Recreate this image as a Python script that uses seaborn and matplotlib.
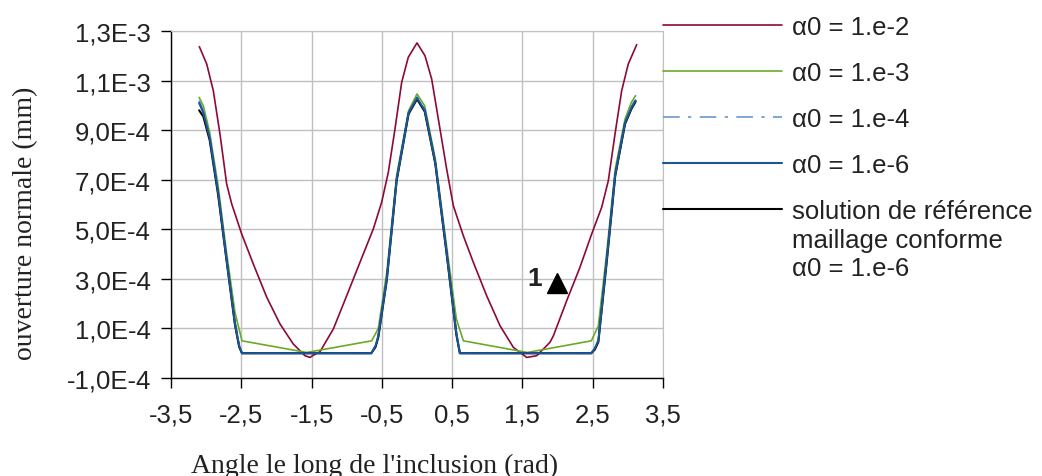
import pandas as pd
import matplotlib
matplotlib.use("Agg")
import matplotlib.pyplot as plt
import seaborn as sns
from matplotlib.ticker import FuncFormatter

# alpha0 = 1e-2
X_A2 = [-3.097, -2.992, -2.898, -2.803, -2.708, -2.636, -2.494, -2.329, -2.138, -1.949,
        -1.760, -1.594, -1.522, -1.475, -1.380, -1.190, -1.000, -0.811, -0.622, -0.503,
        -0.408, -0.313, -0.218, -0.124, 0.0, 0.114, 0.209, 0.327, 0.422, 0.517, 0.659,
        0.801, 0.991, 1.181, 1.370, 1.561, 1.703, 1.892, 1.940, 2.130, 2.319, 2.485,
        2.628, 2.722, 2.817, 2.912, 3.006, 3.126]
Y_A2 = [1.237e-3, 1.167e-3, 1.059e-3, 0.884e-3, 0.683e-3, 0.602e-3, 0.481e-3, 0.360e-3,
        0.226e-3, 0.118e-3, 0.037e-3, -0.010e-3, -0.017e-3, -0.008e-3, 0.006e-3,
        0.098e-3, 0.232e-3, 0.367e-3, 0.501e-3, 0.609e-3, 0.730e-3, 0.905e-3, 1.093e-3,
        1.194e-3, 1.252e-3, 1.200e-3, 1.106e-3, 0.905e-3, 0.743e-3, 0.595e-3, 0.474e-3,
        0.367e-3, 0.232e-3, 0.111e-3, 0.024e-3, -0.017e-3, -0.010e-3, 0.044e-3,
        0.070e-3, 0.212e-3, 0.347e-3, 0.481e-3, 0.589e-3, 0.696e-3, 0.884e-3, 1.059e-3,
        1.167e-3, 1.245e-3]

# alpha0 = 1e-3
X_A3 = [-3.10, -3.04, -2.95, -2.83, -2.71, -2.59, -2.49, -1.57, -0.645, -0.55, -0.43,
        -0.29, -0.12, 0.0, 0.11, 0.26, 0.42, 0.56, 0.66, 1.57, 2.48, 2.58, 2.70, 2.82,
        2.96, 3.05, 3.11]
Y_A3 = [1.032e-3, 0.998e-3, 0.891e-3, 0.676e-3, 0.407e-3, 0.165e-3, 0.050e-3, 0.003e-3,
        0.050e-3, 0.100e-3, 0.326e-3, 0.716e-3, 0.978e-3, 1.046e-3, 0.998e-3, 0.784e-3,
        0.434e-3, 0.138e-3, 0.050e-3, 0.003e-3, 0.050e-3, 0.110e-3, 0.407e-3, 0.743e-3,
        0.945e-3, 1.012e-3, 1.039e-3]

# alpha0 = 1e-4, 1e-6 and reference (conforming mesh)
X_FINE = [-3.10, -3.04, -2.95, -2.83, -2.71, -2.59, -2.53, -2.49, -1.57, -0.65, -0.59,
          -0.55, -0.43, -0.29, -0.12, 0.0, 0.11, 0.26, 0.42, 0.56, 0.61, 1.57, 2.48,
          2.53, 2.58, 2.70, 2.82, 2.96, 3.05, 3.11]
Y_A4 = [1.020e-3, 0.980e-3, 0.880e-3, 0.660e-3, 0.390e-3, 0.130e-3, 0.035e-3, 0.0, 0.0,
        0.0, 0.030e-3, 0.075e-3, 0.310e-3, 0.705e-3, 0.972e-3, 1.035e-3, 0.985e-3,
        0.775e-3, 0.415e-3, 0.085e-3, 0.0, 0.0, 0.0, 0.020e-3, 0.055e-3, 0.385e-3,
        0.725e-3, 0.935e-3, 0.995e-3, 1.025e-3]
Y_A6 = [1.010e-3, 0.970e-3, 0.870e-3, 0.650e-3, 0.380e-3, 0.120e-3, 0.030e-3, 0.0, 0.0,
        0.0, 0.030e-3, 0.070e-3, 0.300e-3, 0.700e-3, 0.970e-3, 1.030e-3, 0.980e-3,
        0.770e-3, 0.410e-3, 0.080e-3, 0.0, 0.0, 0.0, 0.020e-3, 0.050e-3, 0.380e-3,
        0.720e-3, 0.930e-3, 0.990e-3, 1.020e-3]
Y_REF = [0.980e-3, 0.955e-3, 0.860e-3, 0.640e-3, 0.375e-3, 0.115e-3, 0.025e-3, 0.0, 0.0,
         0.0, 0.025e-3, 0.065e-3, 0.295e-3, 0.695e-3, 0.965e-3, 1.025e-3, 0.975e-3,
         0.765e-3, 0.405e-3, 0.075e-3, 0.0, 0.0, 0.0, 0.015e-3, 0.045e-3, 0.370e-3,
         0.715e-3, 0.925e-3, 0.985e-3, 1.015e-3]

LABELS = ["α0 = 1.e-2", "α0 = 1.e-3", "α0 = 1.e-4", "α0 = 1.e-6", "solution de référence"]
REF_EXTRA = ["maillage conforme", "α0 = 1.e-6"]
COLORS = ["#8c0a36", "#6aaa2a", "#6a98cc", "#1a5596", "#000000"]

X_TICKS = [-3.5, -2.5, -1.5, -0.5, 0.5, 1.5, 2.5, 3.5]
Y_TICKS = [-1e-4, 1e-4, 3e-4, 5e-4, 7e-4, 9e-4, 1.1e-3, 1.3e-3]


def fmt_sci(v, pos):
    s = f"{v:.1E}"
    mant, exp = s.split("E")
    return f"{mant.replace('.', ',')}E{int(exp)}"


sns.set_style("white")
plt.rcParams['font.family'] = ['Liberation Sans', 'DejaVu Sans']
SERIF = ['Liberation Serif', 'DejaVu Serif']
FS = 18.5

fig = plt.figure(figsize=(10.42, 4.77), dpi=100)
ax = fig.add_axes([171 / 1042, 1 - 379 / 477, 492 / 1042, 347 / 477])

series = [(X_A2, Y_A2), (X_A3, Y_A3), (X_FINE, Y_A4), (X_FINE, Y_A6), (X_FINE, Y_REF)]
widths = [1.2, 1.2, 1.2, 1.5, 1.5]
zorders = [3, 3, 4, 6, 5]
for (xs, ys), lab, col, lw, zo in zip(series, LABELS, COLORS, widths, zorders):
    df = pd.DataFrame({"x": xs, "y": ys})
    sns.lineplot(data=df, x="x", y="y", ax=ax, color=col, lw=lw, label=lab,
                 sort=False, estimator=None, zorder=zo)
ax.lines[2].set_dashes([10, 5, 2, 5])

ax.set_xlim(-3.5, 3.5)
ax.set_ylim(-1e-4, 1.3e-3)
ax.set_xticks(X_TICKS)
ax.set_yticks(Y_TICKS)
ax.xaxis.set_major_formatter(FuncFormatter(lambda v, p: f"{v:.1f}".replace('.', ',')))
ax.yaxis.set_major_formatter(FuncFormatter(fmt_sci))
ax.tick_params(axis='both', labelsize=FS, direction='out', length=7.5, width=1,
               color='black', left=True, bottom=True, labelcolor='#222222')
ax.tick_params(axis='y', pad=7)
ax.tick_params(axis='x', pad=10)
ax.grid(True, color='#c0c0c0', lw=1)
for side in ['top', 'right']:
    ax.spines[side].set_color('#c0c0c0')
for side in ['left', 'bottom']:
    ax.spines[side].set_color('black')
    ax.spines[side].set_linewidth(1)

ax.set_xlabel("Angle le long de l'inclusion (rad)", fontsize=20, family=SERIF,
              color='#222222')
ax.set_ylabel("ouverture normale (mm)", fontsize=20, family=SERIF, color='#222222')
ax.xaxis.set_label_coords((375 - 171) / 492, -0.215)
ax.yaxis.set_label_coords(-0.27, 0.45)

# slope marker
ax.plot([1.99], [2.83e-4], marker='^', color='black', ms=14, zorder=7)
ax.text(1.78, 3.05e-4, "1", fontsize=19, fontweight='bold', ha='right', va='center',
        color='#222222')

leg = ax.legend(loc='upper left', bbox_to_anchor=(663 / 1042, 1 - 16 / 477),
                bbox_transform=fig.transFigure, frameon=False, fontsize=FS,
                handlelength=119 / 25.7, handletextpad=10 / 25.7, borderpad=0,
                borderaxespad=0, labelspacing=0.86)
for t in leg.get_texts():
    t.set_color('#222222')

# remaining lines of the reference-solution label
fig.canvas.draw()
last = leg.get_texts()[-1].get_window_extent()
for i, line in enumerate(REF_EXTRA):
    fig.text(last.x0, (last.y0 + last.y1) / 2 - 28.5 * (i + 1), line, fontsize=FS,
             va='center', ha='left', color='#222222', transform=None)

fig.savefig("out.png", dpi=100)
